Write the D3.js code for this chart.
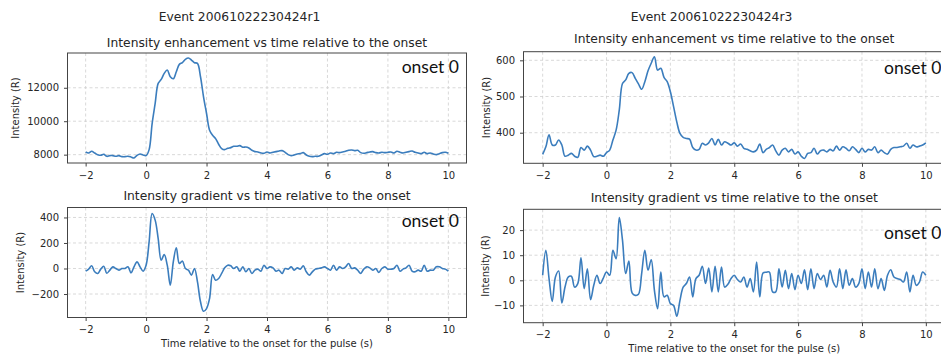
<!DOCTYPE html>
<html>
<head>
<meta charset="utf-8">
<script src="https://cdn.jsdelivr.net/npm/d3@7"></script>
<style>
  body { margin: 0; background: #fff; }
  svg text { font-family: "DejaVu Sans", sans-serif; fill: #262626; }
  .onset { font-family: Lato, "Open Sans", sans-serif; fill: #111; }
</style>
</head>
<body>
<svg id="chart" width="941" height="356"></svg>
<script>
var times = d3.range(121).map(function(i) { return -2 + i * 0.1; });
var xTicks = [-2, 0, 2, 4, 6, 8, 10];

var r1Intensity = [8160,8100,8200,8100,8000,7960,8020,7900,7940,7940,7900,7940,7880,7880,7900,7860,7800,7960,8040,7980,
  7940,8300,9860,11060,12260,12500,12860,13060,12660,12540,12960,13400,13500,13700,13780,13660,13500,13460,12660,11460,
  10460,9460,9160,8960,8620,8360,8300,8380,8420,8500,8500,8540,8440,8460,8400,8260,8180,8160,8100,8080,
  8160,8100,8140,8180,8220,8240,8140,8000,7940,7980,8040,8060,8120,7980,7900,7880,7900,7900,7980,8060,
  8020,8100,8060,8140,8120,8160,8200,8260,8280,8240,8260,8120,8080,8120,8160,8180,8120,8100,8140,8120,
  8140,8160,8100,8200,8140,8100,8140,8180,8220,8140,8100,8060,8140,8060,8100,8040,8000,8060,8120,8140,8080];

var r3Intensity = [340,361,394,366,366,380,366,335,338,343,335,332,359,352,363,352,334,335,338,335,
  345,352,380,407,463,536,546,564,566,550,535,520,541,571,592,610,573,578,553,541,
  513,472,430,398,387,384,382,359,352,354,371,366,372,384,366,382,366,375,371,366,
  372,363,369,357,354,350,347,352,369,345,354,359,366,350,338,352,357,347,354,341,
  347,335,329,343,345,357,341,350,352,347,354,350,363,352,361,357,350,361,354,345,
  357,347,354,352,361,345,352,345,341,354,359,359,361,363,371,357,366,361,363,366,372];

var r1Gradient = [-21,-5,21,-26,-39,-5,18,-37,-13,13,0,-13,0,0,13,-34,13,52,13,-21,
  26,209,431,379,235,65,110,26,-131,52,162,39,58,0,-13,-52,0,-105,-261,-335,
  -314,-235,-47,-92,-78,-39,5,26,21,0,13,-21,13,-26,0,-39,-13,-5,-21,26,
  0,13,5,-21,-13,-39,0,-5,13,-13,5,-5,21,-26,-52,-26,-5,0,5,13,
  0,-13,26,-13,13,0,13,39,0,5,-13,-39,-5,13,5,-13,0,-31,0,13,
  -5,-5,0,26,-21,-5,5,26,-21,-26,-13,-21,26,-21,-13,-13,13,13,0,-5,-21];

var r3Gradient = [2,12,0.7,-8.4,1.3,3.7,-9,-2.7,1.3,1.6,-2.7,-1.3,9,-3.3,4.6,-7.7,-2,2,-1.3,0.9,
  3.3,2,12,8.6,25,16,2.7,7.7,-5,-6,-5.6,2.7,12,4,8.2,-4,-11.3,3.3,-6.6,-6,
  -9.3,-10,-14.3,-8,-2.7,-1.3,1.3,-6.6,0.7,2,5.6,-1.3,4.9,-4.6,5.6,-4.6,5.3,-2.7,-1.6,0.7,
  2,0.3,-0.7,1.3,-2.7,0.7,-4.6,7.3,-6.6,2.9,3.2,3.3,-4.6,-4.6,4.6,-2.7,4,-3.3,2.7,-3.7,
  2,-1.3,4.2,-3.7,4.6,-3.3,2.7,0.3,2,-2.7,4,-0.7,-2.7,4.6,-3.3,4.2,-2,0.7,-2.7,-1.3,
  4.6,-3.3,3.3,-2.7,4.6,-3.3,0.7,-4,2,4.2,1.3,0.7,0.3,-0.7,3.3,-4.6,2,-2,-0.7,3.3,2];

var svg = d3.select("#chart");

/* one function per subplot */
function drawPanel(p) {
  var x = d3.scaleLinear().domain([-2.6, 10.6]).range([p.left, p.right]);
  var y = d3.scaleLinear().domain(p.yDomain).range([p.bottom, p.top]);
  var g = svg.append("g");

  // grid
  g.selectAll(".vgrid").data(xTicks).enter().append("line")
    .attr("x1", function(d) { return x(d); }).attr("x2", function(d) { return x(d); })
    .attr("y1", p.top).attr("y2", p.bottom)
    .attr("stroke", "#cfcfcf").attr("stroke-width", 0.8).attr("stroke-dasharray", "3,2.5");
  g.selectAll(".hgrid").data(p.yTicks).enter().append("line")
    .attr("y1", function(d) { return y(d); }).attr("y2", function(d) { return y(d); })
    .attr("x1", p.left).attr("x2", p.right)
    .attr("stroke", "#cfcfcf").attr("stroke-width", 0.8).attr("stroke-dasharray", "3,2.5");

  // line
  var line = d3.line()
    .x(function(d, i) { return x(times[i]); })
    .y(function(d) { return y(d); })
    .curve(d3.curveCatmullRom);
  g.append("path").datum(p.values)
    .attr("fill", "none").attr("stroke", "#3b7dbd").attr("stroke-width", 1.6)
    .attr("d", line);

  // axes
  var ax = g.append("g").attr("transform", "translate(0," + p.bottom + ")")
    .call(d3.axisBottom(x).tickValues(xTicks).tickSize(3.5).tickPadding(5).tickFormat(d3.format("d")));
  var ay = g.append("g").attr("transform", "translate(" + p.left + ",0)")
    .call(d3.axisLeft(y).tickValues(p.yTicks).tickSize(3.5).tickPadding(5).tickFormat(d3.format("d")));
  [ax, ay].forEach(function(a) {
    a.select(".domain").remove();
    a.selectAll("line").attr("stroke", "#444");
    a.selectAll("text").attr("font-size", 10).attr("fill", "#262626")
      .style("font-family", "'DejaVu Sans', sans-serif");
  });

  // frame
  g.append("rect")
    .attr("x", p.left).attr("y", p.top)
    .attr("width", p.right - p.left).attr("height", p.bottom - p.top)
    .attr("fill", "none").attr("stroke", "#444").attr("stroke-width", 1);

  g.append("text").attr("x", (p.left + p.right) / 2).attr("y", p.titleY)
    .attr("text-anchor", "middle").attr("font-size", 12.3).text(p.title);

  g.append("text")
    .attr("transform", "translate(" + p.ylabX + "," + ((p.top + p.bottom) / 2) + ") rotate(-90)")
    .attr("text-anchor", "middle").attr("font-size", 10).text("Intensity (R)");

  g.append("text").attr("class", "onset")
    .attr("x", p.onsetX).attr("y", p.onsetY).attr("text-anchor", p.onsetAnchor)
    .attr("font-size", 17.5).text("onset 0");

  if (p.xlabel) {
    g.append("text").attr("x", (p.left + p.right) / 2).attr("y", p.xlabY)
      .attr("text-anchor", "middle").attr("font-size", 10).text(p.xlabel);
  }
}

var xlab = "Time relative to the onset for the pulse (s)";

drawPanel({ left: 67.5, right: 466.5, top: 53, bottom: 163, yDomain: [7500, 14080], yTicks: [8000, 10000, 12000],
  values: r1Intensity, title: "Intensity enhancement vs time relative to the onset", titleY: 46.5,
  ylabX: 19, onsetX: 459, onsetY: 73, onsetAnchor: "end" });
drawPanel({ left: 67.5, right: 466.5, top: 207.5, bottom: 317.5, yDomain: [-384, 478], yTicks: [-200, 0, 200, 400],
  values: r1Gradient, title: "Intensity gradient vs time relative to the onset", titleY: 200,
  ylabX: 24, onsetX: 459, onsetY: 227, onsetAnchor: "end", xlabel: xlab, xlabY: 347 });
drawPanel({ left: 523.5, right: 945, top: 51.7, bottom: 163.3, yDomain: [315.5, 623.8], yTicks: [400, 500, 600],
  values: r3Intensity, title: "Intensity enhancement vs time relative to the onset", titleY: 43,
  ylabX: 490, onsetX: 884, onsetY: 74, onsetAnchor: "start" });
drawPanel({ left: 523.5, right: 945, top: 209.3, bottom: 322.7, yDomain: [-16.9, 28.3], yTicks: [-10, 0, 10, 20],
  values: r3Gradient, title: "Intensity gradient vs time relative to the onset", titleY: 201.5,
  ylabX: 489, onsetX: 884, onsetY: 239, onsetAnchor: "start", xlabel: xlab, xlabY: 352 });

svg.append("text").attr("x", 239.5).attr("y", 20.5).attr("text-anchor", "middle")
  .attr("font-size", 12.3).text("Event 20061022230424r1");
svg.append("text").attr("x", 711.5).attr("y", 20.5).attr("text-anchor", "middle")
  .attr("font-size", 12.3).text("Event 20061022230424r3");
</script>
</body>
</html>
